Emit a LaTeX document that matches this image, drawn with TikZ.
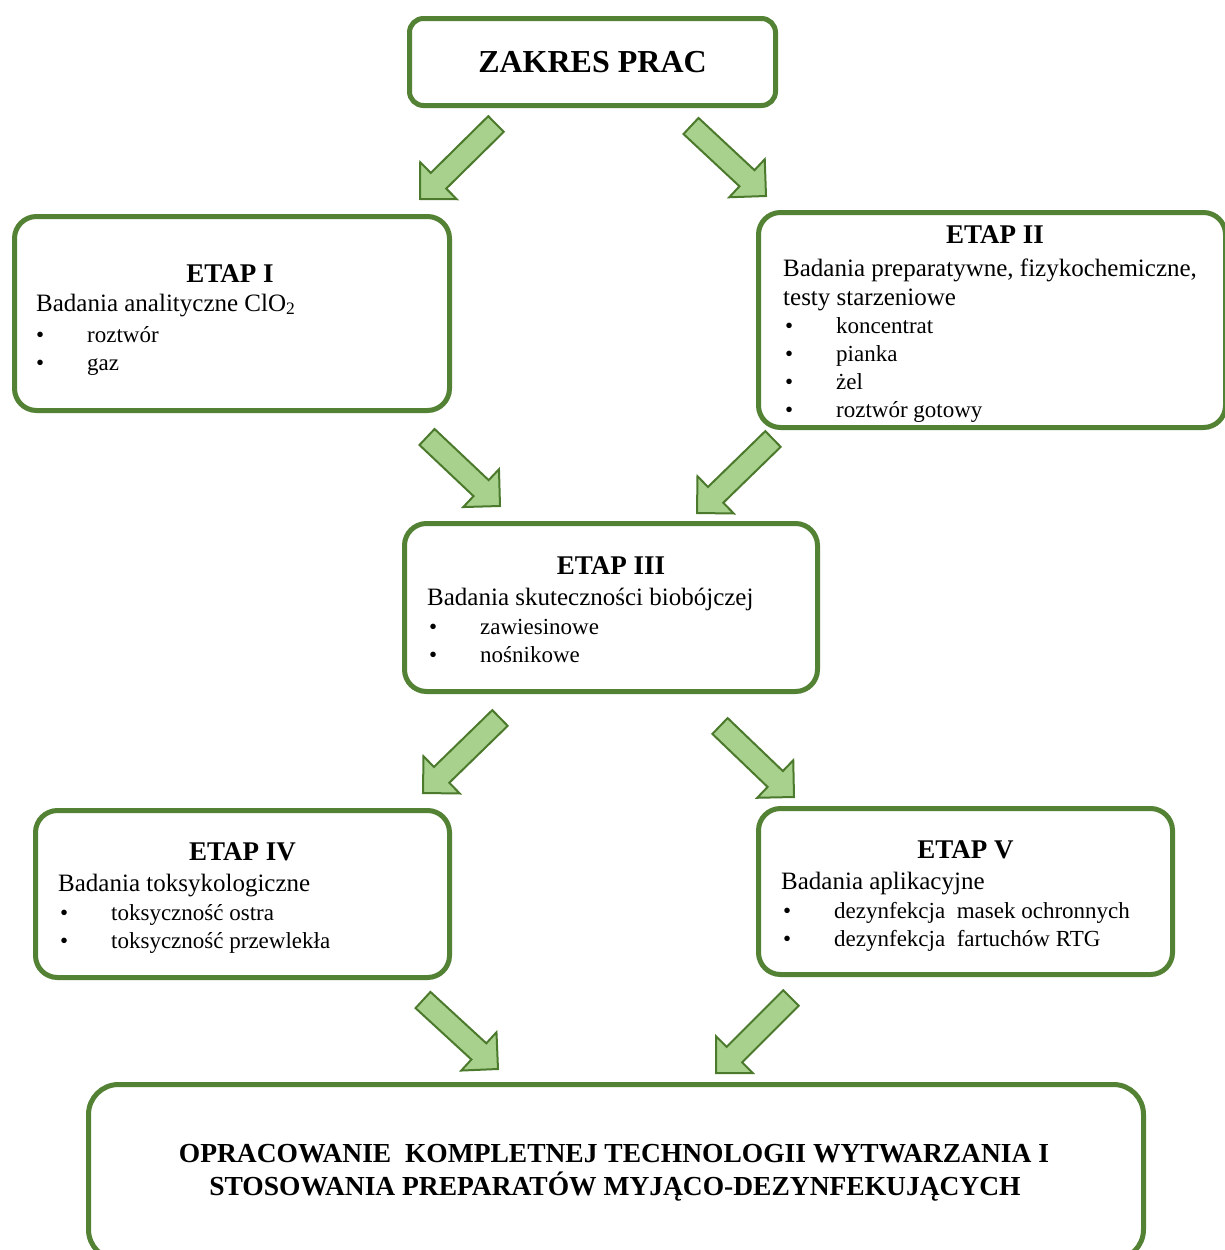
\documentclass[tikz,border=0pt]{standalone}
\usepackage{fontspec}
\setmainfont{Liberation Serif}
\usepackage{tikz}
\usetikzlibrary{calc}

\definecolor{ramka}{HTML}{548235}
\definecolor{strzalka}{HTML}{A9D18E}
\definecolor{strzalkabrzeg}{HTML}{4B7A2D}

% block arrow: tail #1, tip #2
\newcommand{\strz}[2]{%
  \coordinate (hb) at ($(#2)!26pt!(#1)$);
  \draw[blok] ($(#1)!11pt!90:(#2)$) -- ($(hb)!11pt!90:(#2)$) -- ($(hb)!26pt!90:(#2)$) -- (#2)
    -- ($(hb)!26pt!-90:(#2)$) -- ($(hb)!11pt!-90:(#2)$) -- ($(#1)!11pt!-90:(#2)$) -- cycle;}
\newcommand{\pkt}[1]{\makebox[51pt][l]{\textbullet}#1}

\begin{document}
\begin{tikzpicture}[x=1pt, y=-1pt,
    etap/.style={draw=ramka, line width=5pt, rounded corners=22pt, fill=white, inner sep=0pt},
    blok/.style={fill=strzalka, draw=strzalkabrzeg, line width=2pt, line join=miter},
    tytul/.style={font=\fontsize{27}{32}\selectfont\bfseries, inner sep=0pt, anchor=base},
    opis/.style={font=\fontsize{25}{30}\selectfont, inner sep=0pt, anchor=base west},
    punkt/.style={font=\fontsize{23}{28}\selectfont, inner sep=0pt, anchor=base west}]
    \useasboundingbox (0,0) rectangle (1224,1250);
    \fill[white] (0,0) rectangle (1224,1250);

    % Zakres prac
    \node[etap, rounded corners=14pt, minimum width=366pt, minimum height=87pt,
          font=\fontsize{32}{36}\selectfont\bfseries] (zakres) at (592.5,62) {ZAKRES PRAC};

    % ETAP I
    \node[etap, minimum width=435pt, minimum height=194pt] (etap1) at (232,313.5) {};
    \node[tytul] (etap1t) at (230,282) {ETAP I};
    \node[opis] (etap1o) at (36,311) {Badania analityczne ClO\textsubscript{2}};
    \node[punkt] (etap1p1) at (36,342) {\pkt{roztwór}};
    \node[punkt] (etap1p2) at (36,370) {\pkt{gaz}};

    % ETAP II
    \node[etap, minimum width=467pt, minimum height=215pt] (etap2) at (992,320) {};
    \node[tytul] (etap2t) at (995,243) {ETAP II};
    \node[opis] (etap2o1) at (783,276) {Badania preparatywne, fizykochemiczne,};
    \node[opis] (etap2o2) at (783,305) {testy starzeniowe};
    \node[punkt] (etap2p1) at (785,333) {\pkt{koncentrat}};
    \node[punkt] (etap2p2) at (785,361) {\pkt{pianka}};
    \node[punkt] (etap2p3) at (785,389) {\pkt{żel}};
    \node[punkt] (etap2p4) at (785,417) {\pkt{roztwór gotowy}};

    % ETAP III
    \node[etap, minimum width=413pt, minimum height=168pt] (etap3) at (611,607.5) {};
    \node[tytul] (etap3t) at (611,574) {ETAP III};
    \node[opis] (etap3o) at (427,605) {Badania skuteczności biobójczej};
    \node[punkt] (etap3p1) at (429,634) {\pkt{zawiesinowe}};
    \node[punkt] (etap3p2) at (429,662) {\pkt{nośnikowe}};

    % ETAP IV
    \node[etap, minimum width=414pt, minimum height=167pt] (etap4) at (242.5,894) {};
    \node[tytul] (etap4t) at (242.5,860) {ETAP IV};
    \node[opis] (etap4o) at (58,891) {Badania toksykologiczne};
    \node[punkt] (etap4p1) at (60,920) {\pkt{toksyczność ostra}};
    \node[punkt] (etap4p2) at (60,948) {\pkt{toksyczność przewlekła}};

    % ETAP V
    \node[etap, minimum width=414pt, minimum height=166pt] (etap5) at (965.5,891.5) {};
    \node[tytul] (etap5t) at (965.5,858) {ETAP V};
    \node[opis] (etap5o) at (781,889) {Badania aplikacyjne};
    \node[punkt] (etap5p1) at (783,918) {\pkt{dezynfekcja\ \ masek ochronnych}};
    \node[punkt] (etap5p2) at (783,946) {\pkt{dezynfekcja\ \ fartuchów RTG}};

    % Wynik
    \node[etap, rounded corners=30pt, minimum width=1055pt, minimum height=175pt] (koniec) at (616,1172) {};
    \node[tytul, font=\fontsize{27.5}{32}\selectfont\bfseries] (koniec1) at (614,1162) {OPRACOWANIE\ \ KOMPLETNEJ TECHNOLOGII WYTWARZANIA I};
    \node[tytul, font=\fontsize{27.5}{32}\selectfont\bfseries] (koniec2) at (615,1195) {STOSOWANIA PREPARATÓW MYJĄCO-DEZYNFEKUJĄCYCH};

    % Strzalki
    \coordinate (a1s) at (496,124);  \coordinate (a1e) at (420,199);
    \coordinate (a2s) at (691,126);  \coordinate (a2e) at (766,196);
    \coordinate (a3s) at (427,437);  \coordinate (a3e) at (500,506);
    \coordinate (a4s) at (773,439);  \coordinate (a4e) at (697,513);
    \coordinate (a5s) at (500,718);  \coordinate (a5e) at (423,793);
    \coordinate (a6s) at (720,726);  \coordinate (a6e) at (794,797);
    \coordinate (a7s) at (423,1000); \coordinate (a7e) at (498,1069);
    \coordinate (a8s) at (791,998);  \coordinate (a8e) at (716,1073);
    \strz{a1s}{a1e}
    \strz{a2s}{a2e}
    \strz{a3s}{a3e}
    \strz{a4s}{a4e}
    \strz{a5s}{a5e}
    \strz{a6s}{a6e}
    \strz{a7s}{a7e}
    \strz{a8s}{a8e}
\end{tikzpicture}
\end{document}
